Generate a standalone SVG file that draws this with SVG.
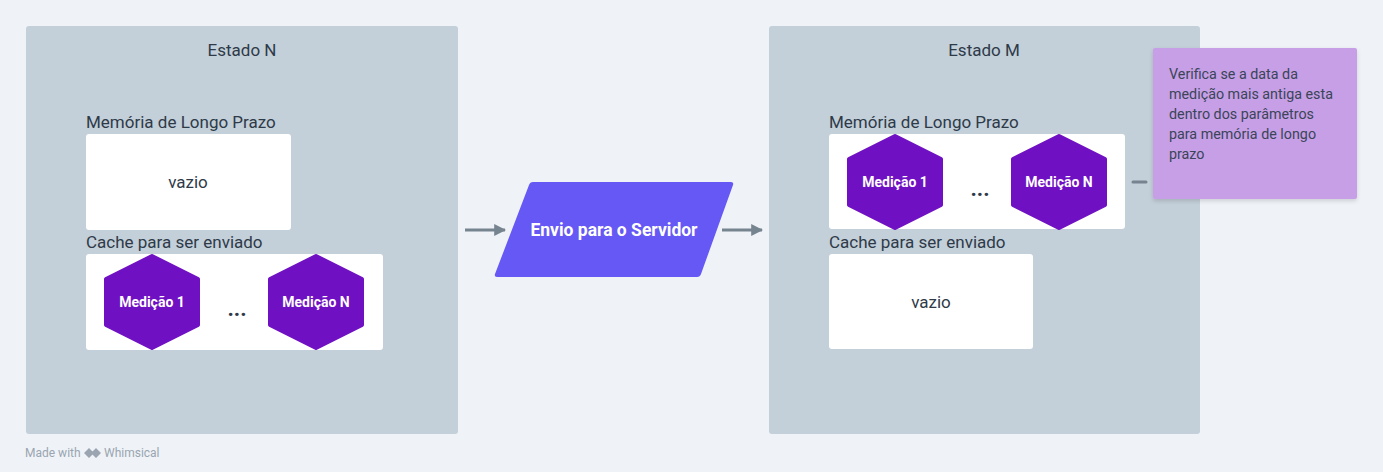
<svg xmlns="http://www.w3.org/2000/svg" width="1383" height="472" viewBox="0 0 1383 472">
<style>
.frame{fill:#C3CFD9}
.box{fill:#FFFFFF}
.lbl{font-family:Roboto,"Noto Sans",sans-serif;font-size:17px;fill:#2E3A48}
.ttl{font-family:Roboto,"Noto Sans",sans-serif;font-size:17px;fill:#2E3A48;text-anchor:middle}
.hex{fill:#7010C3;stroke:#7010C3;stroke-width:4;stroke-linejoin:round}
.ht{font-family:Roboto,"Noto Sans",sans-serif;font-size:14px;font-weight:bold;fill:#FFFFFF;text-anchor:middle}
.dots{font-family:Roboto,"Noto Sans",sans-serif;font-size:22px;font-weight:bold;fill:#2E3A48;text-anchor:middle}
.conn{stroke:#76848F;stroke-width:3;fill:none}
.note{font-family:Roboto,"Noto Sans",sans-serif;font-size:14.3px;fill:#3A4558}
</style>
<defs>
<marker id="ah" viewBox="0 0 10 10" refX="9" refY="5" markerWidth="4" markerHeight="4" orient="auto" markerUnits="strokeWidth">
<path d="M0,0 L10,5 L0,10 z" fill="#76848F"/>
</marker>
<filter id="sh" x="-10%" y="-10%" width="120%" height="130%">
<feDropShadow dx="0" dy="2" stdDeviation="2" flood-color="#000" flood-opacity="0.15"/>
</filter>
<path id="hx" d="M0,-46 L46,-23 L46,23 L0,46 L-46,23 L-46,-23 Z"/>
</defs>
<rect width="1383" height="472" fill="#EFF3F7"/>

<g id="estado-n">
<rect class="frame" x="26" y="26" width="432" height="408" rx="3"/>
<text class="ttl" x="242" y="56">Estado N</text>
<text class="lbl" x="86" y="128">Memória de Longo Prazo</text>
<rect class="box" x="86" y="134" width="205" height="96" rx="3"/>
<text class="ttl" x="188" y="188">vazio</text>
<text class="lbl" x="86" y="248">Cache para ser enviado</text>
<rect class="box" x="86" y="254" width="297" height="96" rx="3"/>
</g>
<g id="n-medicao-1">
<use href="#hx" class="hex" x="152" y="302"/>
<text class="ht" x="152" y="307">Medição 1</text>
</g>
<text class="dots" x="237" y="316">...</text>
<g id="n-medicao-n">
<use href="#hx" class="hex" x="316" y="302"/>
<text class="ht" x="316" y="307">Medição N</text>
</g>

<g id="envio">
<path d="M533,182 L731,182 Q734,182 733,185 L701,274 Q700,277 697,277 L497,277 Q494,277 495,274 L529,185 Q530,182 533,182 Z" fill="#6558F5"/>
<text x="614" y="236" font-family="Roboto,'Noto Sans',sans-serif" font-size="17.5" font-weight="bold" fill="#FFFFFF" text-anchor="middle">Envio para o Servidor</text>
</g>

<g id="estado-m">
<rect class="frame" x="769" y="26" width="431" height="408" rx="3"/>
<text class="ttl" x="984" y="56">Estado M</text>
<text class="lbl" x="829" y="128">Memória de Longo Prazo</text>
<rect class="box" x="829" y="134" width="296" height="95" rx="3"/>
<text class="lbl" x="829" y="248">Cache para ser enviado</text>
<rect class="box" x="829" y="254" width="204" height="95" rx="3"/>
<text class="ttl" x="931" y="308">vazio</text>
</g>
<g id="m-medicao-1">
<use href="#hx" class="hex" x="895" y="182"/>
<text class="ht" x="895" y="187">Medição 1</text>
</g>
<text class="dots" x="980" y="196">...</text>
<g id="m-medicao-n">
<use href="#hx" class="hex" x="1059" y="182"/>
<text class="ht" x="1059" y="187">Medição N</text>
</g>

<g id="nota">
<rect x="1153" y="48" width="204" height="151" rx="2" fill="#C79FE6" filter="url(#sh)"/>
<text class="note" x="1169" y="79">Verifica se a data da</text>
<text class="note" x="1169" y="99">medição mais antiga esta</text>
<text class="note" x="1169" y="119">dentro dos parâmetros</text>
<text class="note" x="1169" y="139">para memória de longo</text>
<text class="note" x="1169" y="159">prazo</text>
</g>

<g id="connectors">
<line class="conn" x1="465" y1="230" x2="505" y2="230" marker-end="url(#ah)"/>
<line class="conn" x1="722" y1="230" x2="762" y2="230" marker-end="url(#ah)"/>
<line class="conn" x1="1133" y1="182" x2="1146" y2="182" stroke-linecap="round"/>
</g>

<g id="footer">
<text x="25" y="457" font-family="Roboto,'Noto Sans',sans-serif" font-size="12" fill="#9AA5B1">Made with</text>
<path d="M84,453 L89,448 L94,453 L89,458 Z M91,453 L96,448 L101,453 L96,458 Z" fill="#9AA5B1"/>
<text x="104" y="457" font-family="Roboto,'Noto Sans',sans-serif" font-size="12" fill="#9AA5B1">Whimsical</text>
</g>
</svg>
